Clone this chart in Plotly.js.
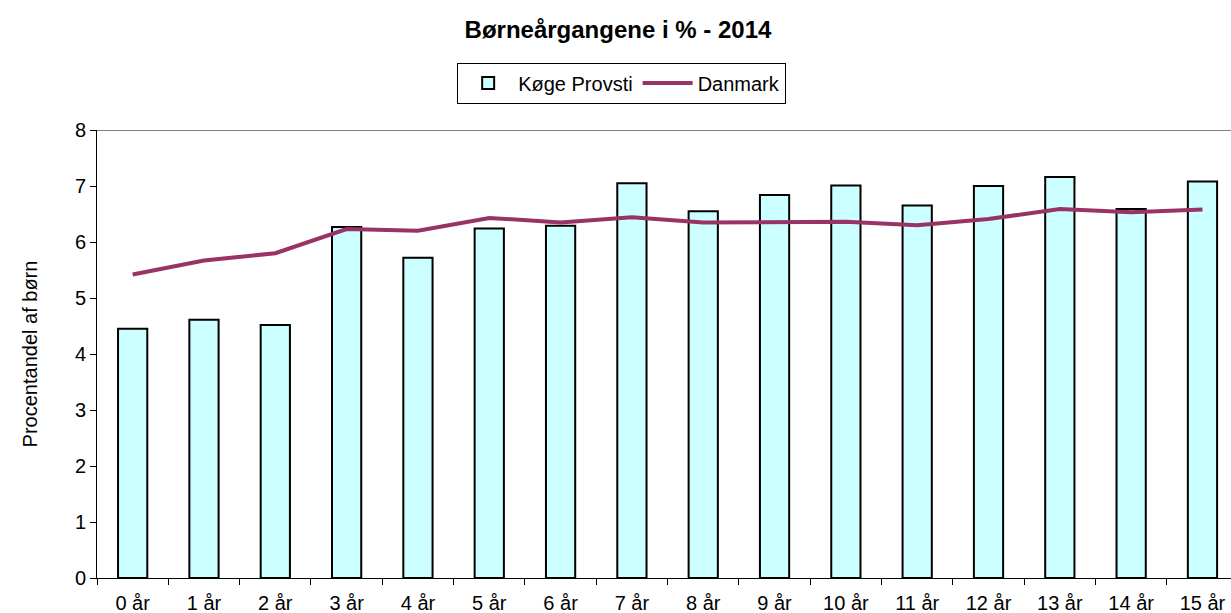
<!DOCTYPE html>
<html>
<head>
<meta charset="utf-8">
<script src="https://cdn.plot.ly/plotly-3.0.1.min.js"></script>
<style>html,body{margin:0;padding:0;background:#fff;overflow:hidden}</style>
</head>
<body>
<div id="chart" style="width:1231px;height:613px"></div>
<script>
const categories = ["0 år","1 år","2 år","3 år","4 år","5 år","6 år","7 år","8 år","9 år","10 år","11 år","12 år","13 år","14 år","15 år"];
const koegeProvsti = [4.45,4.61,4.52,6.27,5.72,6.24,6.29,7.05,6.55,6.84,7.01,6.65,7.00,7.16,6.59,7.08];
const danmark = [5.42,5.67,5.80,6.23,6.20,6.43,6.35,6.44,6.35,6.36,6.36,6.30,6.41,6.59,6.53,6.58];
const yTicks = [0,1,2,3,4,5,6,7,8];

const font = "Liberation Sans, Arial, sans-serif";

const traces = [
  {
    type: "bar", name: "Køge Provsti", x: categories, y: koegeProvsti,
    marker: {color: "#CCFFFF", line: {color: "#000000", width: 2}},
    width: 0.41
  },
  {
    type: "scatter", mode: "lines", name: "Danmark", x: categories, y: danmark,
    line: {color: "#993366", width: 4}
  }
];

const layout = {
  width: 1231, height: 613,
  margin: {l: 97, r: 0, t: 130, b: 35},
  paper_bgcolor: "#ffffff", plot_bgcolor: "#ffffff",
  font: {family: font, size: 20, color: "#000"},
  title: {
    text: "<b>Børneårgangene i % - 2014</b>",
    font: {family: font, size: 24, color: "#000"},
    xref: "container", x: 0.502, xanchor: "center",
    yref: "container", y: 0.951, yanchor: "middle"
  },
  showlegend: true,
  legend: {
    orientation: "h",
    xref: "container", x: 0.505, xanchor: "center",
    yref: "container", y: 0.898, yanchor: "top",
    bordercolor: "#000", borderwidth: 1,
    font: {family: font, size: 20, color: "#000"},
    traceorder: "normal", itemwidth: 50, tracegroupgap: 0
  },
  xaxis: {
    type: "category", range: [-0.5, 15.4],
    showgrid: false, zeroline: false,
    showline: true, linecolor: "#000", linewidth: 1,
    ticks: "outside", tickson: "boundaries", ticklen: 6, tickcolor: "#000",
    ticklabelstandoff: 7,
    tickfont: {family: font, size: 20, color: "#000"}
  },
  yaxis: {
    range: [0, 8], tickvals: yTicks,
    showgrid: false, zeroline: false,
    showline: true, linecolor: "#000", linewidth: 1,
    ticks: "outside", ticklen: 6, tickcolor: "#000",
    tickfont: {family: font, size: 20, color: "#000"},
    title: {text: "Procentandel af børn", font: {family: font, size: 20, color: "#000"}, standoff: 31}
  },
  shapes: [
    {type: "line", xref: "paper", yref: "y", x0: 0, x1: 1, y0: 8, y1: 8,
     line: {color: "#808080", width: 2}}
  ],
  bargap: 0.59
};

Plotly.newPlot("chart", traces, layout, {displayModeBar: false, staticPlot: true});
</script>
</body>
</html>
